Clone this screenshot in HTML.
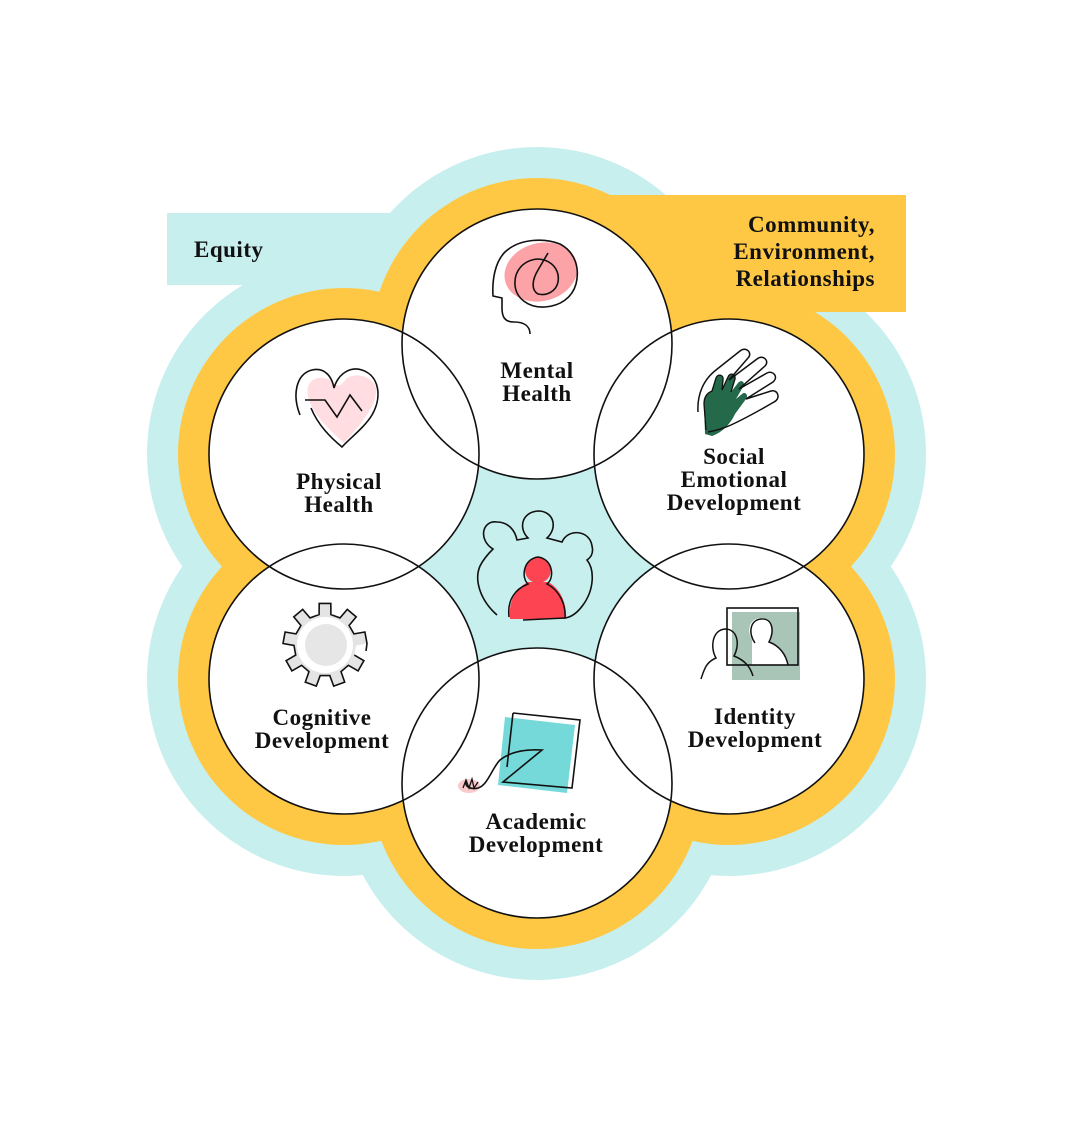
<!DOCTYPE html>
<html><head><meta charset="utf-8"><style>
html,body{margin:0;padding:0;background:#fff;}
svg{display:block;}
text{font-family:"Liberation Serif",serif;font-weight:bold;font-size:23px;fill:#111;letter-spacing:0.5px;}
</style></head><body>
<svg width="1073" height="1128" viewBox="0 0 1073 1128" xmlns="http://www.w3.org/2000/svg">
<rect width="1073" height="1128" fill="#fff"/>
<!-- blue outer -->
<g fill="#c7efee">
<rect x="167" y="213" width="230" height="72"/>
<circle cx="537" cy="344" r="197"/><circle cx="344" cy="454" r="197"/><circle cx="729" cy="454" r="197"/>
<circle cx="344" cy="679" r="197"/><circle cx="729" cy="679" r="197"/><circle cx="537" cy="783" r="197"/>
</g>
<!-- yellow -->
<g fill="#fec845">
<rect x="610" y="195" width="296" height="117"/>
<circle cx="537" cy="344" r="166"/><circle cx="344" cy="454" r="166"/><circle cx="729" cy="454" r="166"/>
<circle cx="344" cy="679" r="166"/><circle cx="729" cy="679" r="166"/><circle cx="537" cy="783" r="166"/>
</g>
<polygon points="537,344 729,454 729,679 537,783 344,679 344,454" fill="#c7efee"/>
<!-- white circles -->
<g fill="#fff">
<circle cx="537" cy="344" r="135"/><circle cx="344" cy="454" r="135"/><circle cx="729" cy="454" r="135"/>
<circle cx="344" cy="679" r="135"/><circle cx="729" cy="679" r="135"/><circle cx="537" cy="783" r="135"/>
</g>
<g fill="none" stroke="#111" stroke-width="1.6">
<circle cx="537" cy="344" r="135"/><circle cx="344" cy="454" r="135"/><circle cx="729" cy="454" r="135"/>
<circle cx="344" cy="679" r="135"/><circle cx="729" cy="679" r="135"/><circle cx="537" cy="783" r="135"/>
</g>

<!-- Mental health icon -->
<ellipse cx="541" cy="272" rx="37" ry="29" fill="#fca3a7" transform="rotate(-15 541 272)"/>
<path d="M530 334 C530 326 524 322 514 322 C504 322 502 316 502 308 L502 298 L493 296 C492 280 495 262 505 252 C520 238 545 238 560 244 C575 252 580 268 576 284 C572 298 560 306 545 307 C528 308 516 298 515 285 C514 270 524 260 538 259 C552 260 560 270 558 282 C556 292 546 296 538 294 C531 290 532 280 538 270 L548 253" fill="none" stroke="#111" stroke-width="1.6"/>

<!-- Physical health icon -->
<path d="M308 396 C305 380 318 374 330 380 C336 386 340 388 345 380 C352 372 372 374 376 388 C378 405 360 425 344 443 C330 430 312 415 308 396 Z" fill="#ffdde1"/>
<path d="M300 415 C292 395 296 374 312 370 C325 367 332 377 334 388 C338 374 350 366 362 370 C380 376 382 398 372 415 C364 428 350 438 342 447 C330 437 318 425 311 408" fill="none" stroke="#111" stroke-width="1.6"/>
<path d="M305 400 L325 400 L337 417 L350 395 L362 411" fill="none" stroke="#111" stroke-width="1.6"/>

<!-- Social emotional icon -->
<path d="M705 434 L704 404 C704 397 707 393 712 391 L716 378 C718 373 724 375 723 380 L722 390 L728 377 C730 372 736 374 735 379 L731 392 L738 383 C741 379 746 382 743 387 L736 399 L742 394 C745 391 749 395 746 399 L735 414 C730 425 721 433 712 436 Z" fill="#24694a"/>
<path d="M698 412 C697 395 703 380 716 370 L740 351 C746 346 753 353 748 358 L729 380 L757 359 C763 354 770 361 765 366 L739 389 L767 373 C773 370 779 377 773 382 L746 399 L771 391 C778 389 781 399 774 402 C762 409 746 418 731 425 C722 429 714 431 708 432" fill="none" stroke="#111" stroke-width="1.5"/>
<path d="M706 430 L704 404 C704 397 707 393 712 391 L716 378 C718 373 724 375 723 380 L722 390 L728 377 C730 372 736 374 735 379 L731 392" fill="none" stroke="#111" stroke-width="1.3"/>

<!-- Center people icon -->
<path d="M510 619 C508 601 516 588 528 582 L548 582 C560 588 567 603 566 619 Z" fill="#fd4452"/>
<circle cx="538" cy="570" r="13" fill="#fd4452"/>
<path d="M497 615 C480 600 474 580 480 566 C484 558 490 552 493 549 C478 540 482 520 497 522 C508 522 515 530 517 540 L528 538 C518 528 522 512 538 511 C554 511 558 528 547 538 L562 542 C568 528 590 530 592 546 C594 554 590 558 587 560 C595 570 594 590 583 605 C578 612 572 617 565 618 L523 620" fill="none" stroke="#111" stroke-width="1.6"/>
<path d="M509 617 C507 600 515 589 528 584 C521 578 523 559 538 557 C553 559 555 578 547 584 C559 590 566 604 565 618" fill="none" stroke="#111" stroke-width="1.5"/>

<!-- Cognitive gear -->
<polygon points="354.3,655.1 363.9,660.7 358.1,670.9 348.4,665.3 341.0,671.6 344.7,682.1 333.7,686.1 329.8,675.6 320.2,675.6 316.3,686.1 305.3,682.1 309.0,671.6 301.6,665.3 291.9,670.9 286.1,660.7 295.7,655.1 294.0,645.5 283.0,643.5 285.1,632.0 296.0,633.9 300.9,625.5 293.8,616.9 302.7,609.4 310.0,617.9 319.1,614.6 319.2,603.4 330.8,603.4 330.9,614.6 340.0,617.9 347.3,609.4 356.2,616.9 349.1,625.5 354.0,633.9 364.9,632.0 367.0,643.5 356.0,645.5" fill="#e4e4e4"/>
<circle cx="325" cy="645" r="28" fill="#fff"/>
<circle cx="326" cy="645" r="21" fill="#e6e6e6"/>
<polyline points="354.3,655.1 363.9,660.7 358.1,670.9 348.4,665.3 341.0,671.6 344.7,682.1 333.7,686.1 329.8,675.6 320.2,675.6 316.3,686.1 305.3,682.1 309.0,671.6 301.6,665.3 291.9,670.9 286.1,660.7 295.7,655.1 294.0,645.5 283.0,643.5 285.1,632.0 296.0,633.9 300.9,625.5 293.8,616.9 302.7,609.4 310.0,617.9 319.1,614.6 319.2,603.4 330.8,603.4 330.9,614.6 340.0,617.9 347.3,609.4 356.2,616.9 349.1,625.5 354.0,633.9 364.9,632.0 367.0,643.5 366,651" fill="none" stroke="#111" stroke-width="1.6"/>

<!-- Identity icon -->
<rect x="732" y="612" width="68" height="68" fill="#a8c5b8"/>
<path d="M752 640 C746 630 750 618 761 618 C772 618 775 630 770 642 C780 646 786 655 788 665 L752 665 Z" fill="#fff"/>
<path d="M755 643 C748 633 750 620 761 619 C772 618 775 630 769 642 C780 646 786 655 788 665" fill="none" stroke="#111" stroke-width="1.5"/>
<rect x="727" y="608" width="71" height="57" fill="none" stroke="#111" stroke-width="1.6"/>
<path d="M701 679 C704 670 706 662 716 658 C710 648 712 630 725 629 C738 629 740 645 734 656 C744 660 750 666 753 676" fill="none" stroke="#111" stroke-width="1.5"/>

<!-- Academic icon -->
<polygon points="505,717 575,725 567,793 498,785" fill="#74d9d8"/>
<ellipse cx="469" cy="786" rx="11" ry="7" fill="#f9c9cc"/>
<path d="M513 713 L580 720 L572 788 L503 782 L542 750 C525 749 510 752 500 760 C492 768 488 785 478 788 C470 790 465 786 466 782 M513 713 L507 767" fill="none" stroke="#111" stroke-width="1.6"/>
<path d="M463 788 L466 780 L469 788 L472 779 L474 788 L478 782" fill="none" stroke="#111" stroke-width="1.3"/>

<!-- Labels -->
<text x="194" y="257">Equity</text>
<text x="875" y="232" text-anchor="end">Community,</text>
<text x="875" y="259" text-anchor="end">Environment,</text>
<text x="875" y="286" text-anchor="end">Relationships</text>
<text x="537" y="378" text-anchor="middle">Mental</text>
<text x="537" y="401" text-anchor="middle">Health</text>
<text x="339" y="489" text-anchor="middle">Physical</text>
<text x="339" y="512" text-anchor="middle">Health</text>
<text x="734" y="464" text-anchor="middle">Social</text>
<text x="734" y="487" text-anchor="middle">Emotional</text>
<text x="734" y="510" text-anchor="middle">Development</text>
<text x="322" y="725" text-anchor="middle">Cognitive</text>
<text x="322" y="748" text-anchor="middle">Development</text>
<text x="755" y="724" text-anchor="middle">Identity</text>
<text x="755" y="747" text-anchor="middle">Development</text>
<text x="536" y="829" text-anchor="middle">Academic</text>
<text x="536" y="852" text-anchor="middle">Development</text>
</svg>
</body></html>
